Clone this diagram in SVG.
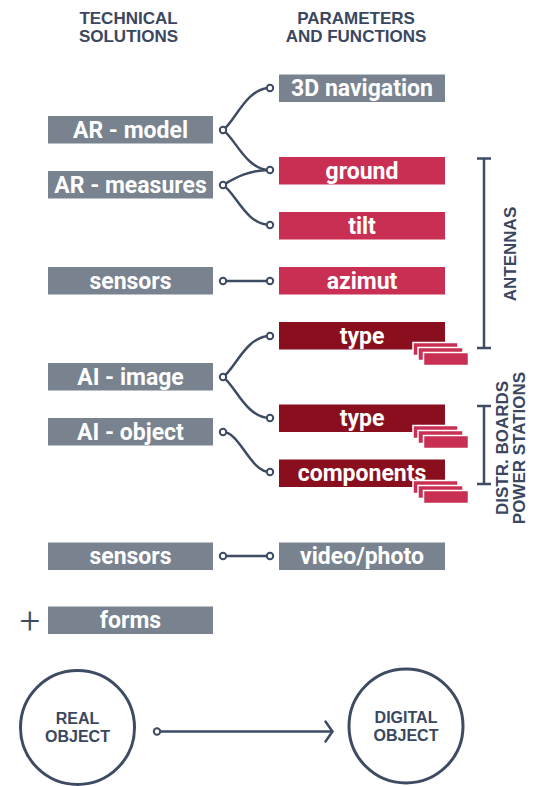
<svg xmlns="http://www.w3.org/2000/svg" width="534" height="786" viewBox="0 0 534 786">
<style>
.hd{font-family:"Liberation Sans",Arial,sans-serif;font-weight:700;font-size:17px;fill:#3a4761;text-anchor:middle}
.rt{font-family:"Liberation Sans",Arial,sans-serif;font-weight:700;font-size:17px;fill:#3a4761;text-anchor:middle}
.ob{font-family:"Liberation Sans",Arial,sans-serif;font-weight:700;font-size:16px;fill:#3a4761;text-anchor:middle}
.bt{font-family:Roboto,"Noto Sans",sans-serif;font-weight:700;font-size:23px;fill:#ffffff;text-anchor:middle}
.g{fill:#78838f}
.p{fill:#c92f52}
.d{fill:#8a0f1e}
.st{fill:#c92f52;stroke:#ffffff;stroke-width:1.5}
.c{fill:none;stroke:#3d4b63;stroke-width:2.5;stroke-linecap:round}
.dot{fill:#ffffff;stroke:#3d4b63;stroke-width:2}
.br{fill:none;stroke:#3d4b63;stroke-width:2.5}
</style>
<defs>
<g id="stack">
<rect class="st" x="-32" y="-6.5" width="45" height="13"/>
<rect class="st" x="-27" y="-1.5" width="45" height="13"/>
<rect class="st" x="-21.5" y="3.5" width="45" height="13"/>
</g>
</defs>

<g id="headers">
<text class="hd" x="128.5" y="24">TECHNICAL</text>
<text class="hd" x="128.5" y="41.5">SOLUTIONS</text>
<text class="hd" x="356" y="24">PARAMETERS</text>
<text class="hd" x="356" y="41.5">AND FUNCTIONS</text>
</g>

<g id="connectors">
<path class="c" d="M223,130 C235,122 246,88 270,88"/>
<path class="c" d="M223,130 C235,138 246,170 270,170"/>
<path class="c" d="M223,185 C235,178 248,170 270,170"/>
<path class="c" d="M223,185 C235,192 246,225 270,225"/>
<path class="c" d="M223,281 L270,281"/>
<path class="c" d="M223,377 C235,369 246,336 270,336"/>
<path class="c" d="M223,377 C235,385 246,418 270,418"/>
<path class="c" d="M223,432 C240,432 250,472 270,472"/>
<path class="c" d="M223,556 L270,556"/>
<path class="c" d="M155,731.5 L332,731.5"/>
<path class="c" d="M325.5,721.5 L332.5,731.5 L325.5,741.5"/>
<g>
<circle class="dot" cx="223" cy="130" r="3.2"/>
<circle class="dot" cx="223" cy="185" r="3.2"/>
<circle class="dot" cx="223" cy="281" r="3.2"/>
<circle class="dot" cx="223" cy="377" r="3.2"/>
<circle class="dot" cx="223" cy="432" r="3.2"/>
<circle class="dot" cx="223" cy="556" r="3.2"/>
<circle class="dot" cx="270" cy="88" r="3.2"/>
<circle class="dot" cx="270" cy="170" r="3.2"/>
<circle class="dot" cx="270" cy="225" r="3.2"/>
<circle class="dot" cx="270" cy="281" r="3.2"/>
<circle class="dot" cx="270" cy="336" r="3.2"/>
<circle class="dot" cx="270" cy="418" r="3.2"/>
<circle class="dot" cx="270" cy="472" r="3.2"/>
<circle class="dot" cx="270" cy="556" r="3.2"/>
<circle class="dot" cx="157" cy="731.5" r="3.2"/>
</g>
</g>

<g id="ar-model"><rect class="g" x="48" y="116" width="165" height="27.5"/><text class="bt" x="130.5" y="137.8">AR - model</text></g>
<g id="ar-measures"><rect class="g" x="48" y="171" width="165" height="27.5"/><text class="bt" x="130.5" y="192.8">AR - measures</text></g>
<g id="sensors1"><rect class="g" x="48" y="267" width="165" height="27.5"/><text class="bt" x="130.5" y="288.8">sensors</text></g>
<g id="ai-image"><rect class="g" x="48" y="363" width="165" height="27.5"/><text class="bt" x="130.5" y="384.8">AI - image</text></g>
<g id="ai-object"><rect class="g" x="48" y="418" width="165" height="27.5"/><text class="bt" x="130.5" y="439.8">AI - object</text></g>
<g id="sensors2"><rect class="g" x="48" y="542.5" width="165" height="27.5"/><text class="bt" x="130.5" y="564.3">sensors</text></g>
<g id="forms"><rect class="g" x="48" y="606.5" width="165" height="27.5"/><text class="bt" x="130.5" y="628.3">forms</text>
<text x="30" y="633" style="font-family:Roboto,sans-serif;font-weight:300;font-size:36px;fill:#3d4b63;text-anchor:middle">+</text></g>

<g id="nav3d"><rect class="g" x="279" y="74.5" width="166" height="27.5"/><text class="bt" x="362" y="96.3">3D navigation</text></g>
<g id="ground"><rect class="p" x="279" y="157" width="166" height="27.5"/><text class="bt" x="362" y="178.8">ground</text></g>
<g id="tilt"><rect class="p" x="279" y="212" width="166" height="27.5"/><text class="bt" x="362" y="233.8">tilt</text></g>
<g id="azimut"><rect class="p" x="279" y="267" width="166" height="27.5"/><text class="bt" x="362" y="288.8">azimut</text></g>
<g id="type1"><rect class="d" x="279" y="322" width="166" height="27.5"/><use href="#stack" x="445" y="349"/><text class="bt" x="362" y="343.8">type</text></g>
<g id="type2"><rect class="d" x="279" y="404.5" width="166" height="27.5"/><use href="#stack" x="445" y="432"/><text class="bt" x="362" y="426.3">type</text></g>
<g id="components"><rect class="d" x="279" y="459.5" width="166" height="27.5"/><use href="#stack" x="445" y="487"/><text class="bt" x="362" y="481.3">components</text></g>
<g id="video"><rect class="g" x="279" y="542.5" width="166" height="27.5"/><text class="bt" x="362" y="564.3">video/photo</text></g>

<g id="antennas">
<path class="br" d="M477,158.5 H491 M484,158.5 V348 M477,348 H491"/>
<text class="rt" transform="translate(516,254) rotate(-90)">ANTENNAS</text>
</g>
<g id="distr">
<path class="br" d="M477,406 H491 M484,406 V484 M477,484 H491"/>
<text class="rt" transform="translate(508,448) rotate(-90)">DISTR. BOARDS</text>
<text class="rt" transform="translate(525,448) rotate(-90)">POWER STATIONS</text>
</g>

<g id="real-object">
<circle cx="77.5" cy="727.5" r="57" fill="none" stroke="#3d4b63" stroke-width="3"/>
<text class="ob" x="77.5" y="724">REAL</text>
<text class="ob" x="77.5" y="742">OBJECT</text>
</g>
<g id="digital-object">
<circle cx="406" cy="726" r="57" fill="none" stroke="#3d4b63" stroke-width="3"/>
<text class="ob" x="406" y="722.5">DIGITAL</text>
<text class="ob" x="406" y="740.5">OBJECT</text>
</g>
</svg>
